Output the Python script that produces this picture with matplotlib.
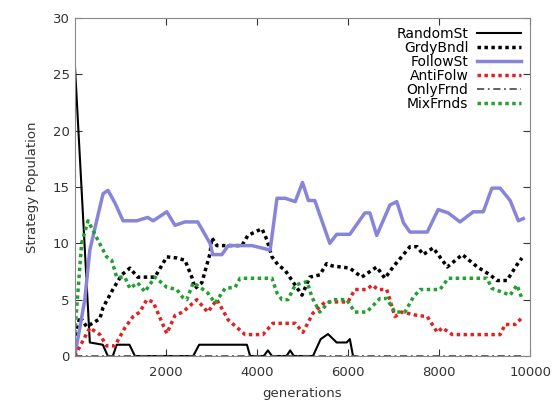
import matplotlib.pyplot as plt

# generations / populations
random_g = [0, 330, 615, 725, 835, 920, 1200, 1320, 2600, 2730, 3780, 3850, 4150, 4240, 4330, 4650, 4730, 4810,
            5230, 5400, 5560, 5750, 5970, 6040, 6110, 6150]
random_v = [26, 1.2, 1, 0, 0, 1, 1, 0, 0, 1, 1, 0, 0, 0.5, 0, 0, 0.5, 0,
            0, 1.5, 1.95, 1.2, 1.2, 1.5, 0, 0]

greedy_g = [0, 110, 260, 550, 620, 835, 1030, 1210, 1380, 1760, 2020, 2240, 2420, 2570, 2640, 2790, 2970, 3010,
            3120, 3670, 3800, 4110, 4220, 4330, 4460, 4620, 4770, 4990, 5160, 5380, 5530, 5650, 6040, 6300,
            6630, 6810, 6990, 7360, 7520, 7650, 7870, 8180, 8510, 8840, 9120, 9270, 9490, 9710, 9820]
greedy_v = [1.2, 3.5, 2.6, 3.3, 4.3, 5.9, 7.2, 7.8, 7.0, 7.0, 8.8, 8.7, 8.5, 7.0, 6.0, 6.5, 9.1, 10.5,
            9.8, 9.8, 10.7, 11.3, 10.3, 8.8, 8.1, 7.6, 6.7, 5.4, 7.0, 7.2, 8.2, 8.0, 7.8, 7.0,
            7.9, 6.9, 7.9, 9.7, 9.7, 9.0, 9.6, 7.9, 9.0, 7.9, 7.2, 6.7, 6.7, 8.1, 8.7]

follow_g = [0, 220, 330, 480, 620, 730, 880, 1060, 1360, 1600, 1720, 2020, 2200, 2420, 2700, 2970, 3030, 3230,
            3370, 3890, 4290, 4440, 4620, 4840, 5000, 5130, 5270, 5600, 5750, 6040, 6370, 6480, 6630, 6920,
            7070, 7220, 7360, 7740, 7980, 8200, 8460, 8750, 8970, 9160, 9340, 9560, 9740, 9850]
follow_v = [0, 5, 9.4, 12, 14.4, 14.7, 13.6, 12, 12, 12.3, 12, 12.8, 11.6, 11.9, 11.9, 10, 9, 9,
            9.8, 9.8, 9.4, 14, 14, 13.7, 15.4, 13.8, 13.8, 10, 10.8, 10.8, 12.7, 12.7, 10.7, 13.4,
            13.7, 11.8, 11, 11, 13, 12.7, 11.9, 12.8, 12.8, 14.9, 14.9, 13.8, 12, 12.2]

anti_g = [0, 330, 550, 700, 880, 1100, 1280, 1430, 1580, 1720, 2020, 2200, 2370, 2680, 2920, 3120, 3370, 3740,
          4130, 4350, 4840, 5010, 5230, 5500, 6000, 6150, 6410, 6530, 6660, 6850, 7030, 7180, 7520, 7740,
          7960, 8070, 8290, 9340, 9450, 9670, 9850]
anti_v = [0, 2.5, 1.9, 0.9, 0.9, 2.5, 3.5, 3.9, 5.0, 4.8, 2.0, 3.6, 3.9, 5.0, 3.9, 5.0, 3.2, 1.9,
          1.9, 2.9, 2.9, 2.1, 3.8, 4.8, 4.8, 5.9, 5.9, 6.3, 5.9, 5.9, 3.5, 3.9, 3.6, 3.5,
          2.1, 2.5, 1.9, 1.9, 2.8, 2.8, 3.5]

only_g = [0, 9850]
only_v = [0, 0]

mix_g = [0, 150, 290, 480, 700, 810, 920, 1100, 1210, 1380, 1540, 1760, 2020, 2240, 2370, 2460, 2600, 2750,
         2920, 3080, 3300, 3520, 3630, 4330, 4440, 4550, 4680, 4840, 5010, 5100, 5210, 5380, 5560, 5670,
         5970, 6150, 6410, 6700, 6850, 7030, 7250, 7430, 7580, 8020, 8200, 9050, 9160, 9560, 9710, 9820]
mix_v = [2.0, 10, 12, 10.5, 8.8, 8.5, 7.0, 7.0, 6.0, 6.5, 5.7, 7.0, 6.1, 5.9, 5.2, 5.0, 6.5, 6.1,
         5.6, 4.7, 6.0, 6.1, 6.9, 6.9, 5.6, 5.0, 5.0, 6.3, 6.5, 6.6, 5.2, 3.9, 4.7, 5.0,
         5.0, 3.9, 3.9, 5.1, 5.1, 3.9, 3.9, 5.2, 5.9, 5.9, 6.9, 6.9, 6.0, 5.4, 6.3, 5.1]

plt.rcParams['font.family'] = 'DejaVu Sans'
fig = plt.figure(figsize=(5.54, 4.0), dpi=100)
ax = fig.add_axes([0.135, 0.11, 0.822, 0.845])

ax.plot(random_g, random_v, color='black', lw=1.5, label='RandomSt')
ax.plot(greedy_g, greedy_v, color='black', lw=2.5, ls=(0, (1, 1)), label='GrdyBndl')
ax.plot(follow_g, follow_v, color='#8884d8', lw=2.5, label='FollowSt')
ax.plot(anti_g, anti_v, color='#e02222', lw=2.5, ls=(0, (1, 1)), label='AntiFolw')
ax.plot(only_g, only_v, color='#555555', lw=1.3, ls=(0, (4, 2, 1, 2)), label='OnlyFrnd')
ax.plot(mix_g, mix_v, color='#22a032', lw=2.5, ls=(0, (1, 1)), label='MixFrnds')

ax.set_xlim(0, 10000)
ax.set_ylim(0, 30)
ax.set_xticks([2000, 4000, 6000, 8000, 10000])
ax.set_yticks([0, 5, 10, 15, 20, 25, 30])
ax.tick_params(direction='in', top=True, right=True, labelsize=9.5, colors='#333333', length=5)
ax.tick_params(axis='x', pad=7)
for s in ax.spines.values():
    s.set_color('#888888')
ax.set_xlabel('generations', fontsize=9.5, color='#333333', labelpad=6)
ax.set_ylabel('Strategy Population', fontsize=9.5, color='#333333', labelpad=10)

ax.legend(loc='upper right', frameon=False, markerfirst=False, fontsize=10,
          handlelength=3.2, labelspacing=0.0, borderaxespad=0.25, handletextpad=0.6)

fig.savefig('out.png', dpi=100)
